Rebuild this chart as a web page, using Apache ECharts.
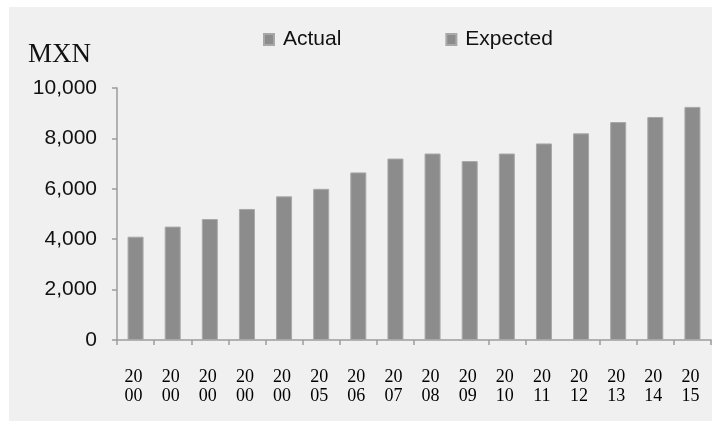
<!DOCTYPE html>
<html>
<head>
<meta charset="utf-8">
<script src="https://cdn.jsdelivr.net/npm/echarts@6/dist/echarts.min.js"></script>
<style>
  html, body { margin: 0; padding: 0; background: #ffffff; }
  #panel { position: absolute; left: 9px; top: 7px; width: 703px; height: 414px; background: #f0f0f0; }
  #chart { position: absolute; left: 0; top: 0; width: 712px; height: 423px; }
</style>
</head>
<body>
<div id="panel"></div>
<div id="chart"></div>
<script>
// Category labels as printed on the x axis (the source repeats "2000")
const categories = ['2000','2000','2000','2000','2000','2005','2006','2007','2008','2009','2010','2011','2012','2013','2014','2015'];
// Actual values (first 11 categories), MXN
const actualValues = [4100, 4500, 4800, 5200, 5700, 6000, 6650, 7200, 7400, 7100, 7400];
// Expected values (last 5 categories), MXN
const expectedValues = [7800, 8200, 8650, 8850, 9250];
// Y-axis tick values
const yTicks = [0, 2000, 4000, 6000, 8000, 10000];
const seriesNames = ['Actual', 'Expected'];
const unitLabel = 'MXN';

const actualData = categories.map((c, i) => i < actualValues.length ? actualValues[i] : null);
const expectedData = categories.map((c, i) => i >= actualValues.length ? expectedValues[i - actualValues.length] : null);

const fmt = v => String(v).replace(/\B(?=(\d{3})+(?!\d))/g, ',');
const barColor = '#8c8c8c';
const axisColor = '#9c9c9c';

const chart = echarts.init(document.getElementById('chart'), null, { renderer: 'canvas' });
chart.setOption({
  backgroundColor: 'transparent',
  animation: false,
  title: {
    text: unitLabel,
    left: 23, top: 36,
    textStyle: { fontFamily: 'Liberation Serif', fontSize: 27, fontWeight: 'normal', color: '#111111', lineHeight: 27 }
  },
  legend: {
    data: seriesNames,
    left: 258, top: 24,
    itemWidth: 10, itemHeight: 11, itemGap: 104,
    icon: 'rect',
    textStyle: { fontFamily: 'Liberation Sans', fontSize: 21, color: '#111111', lineHeight: 21, padding: [0, 0, 0, 4] }
  },
  grid: { left: 117, right: 1, top: 88, bottom: 83, containLabel: false },
  xAxis: {
    type: 'category',
    data: categories,
    boundaryGap: true,
    axisLine: { show: true, lineStyle: { color: axisColor, width: 1.5 } },
    axisTick: { show: true, length: 5, lineStyle: { color: axisColor, width: 1.5 },
                interval: (i) => i !== 9 && i !== 12 },
    axisLabel: {
      interval: 0, margin: 28,
      formatter: v => v.slice(0, 2) + '\n' + v.slice(2),
      fontFamily: 'Liberation Serif', fontSize: 18, lineHeight: 19, color: '#000000',
      padding: [0, 4, 0, 0]
    },
    splitLine: { show: false }
  },
  yAxis: {
    type: 'value',
    min: yTicks[0], max: yTicks[yTicks.length - 1], interval: yTicks[1] - yTicks[0],
    axisLine: { show: true, lineStyle: { color: axisColor, width: 1.5 } },
    axisTick: { show: true, length: 5, lineStyle: { color: axisColor, width: 1.5 } },
    axisLabel: { margin: 20, formatter: fmt, fontFamily: 'Liberation Sans', fontSize: 21, color: '#111111',
                 padding: [0, 0, 4, 0] },
    splitLine: { show: false }
  },
  series: [
    { name: seriesNames[0], type: 'bar', data: actualData, barWidth: 16, barGap: '-100%',
      itemStyle: { color: barColor, borderColor: '#a8a8a8', borderWidth: 1 } },
    { name: seriesNames[1], type: 'bar', data: expectedData, barWidth: 16, barGap: '-100%',
      itemStyle: { color: barColor, borderColor: '#a8a8a8', borderWidth: 1 } }
  ]
});
</script>
</body>
</html>
